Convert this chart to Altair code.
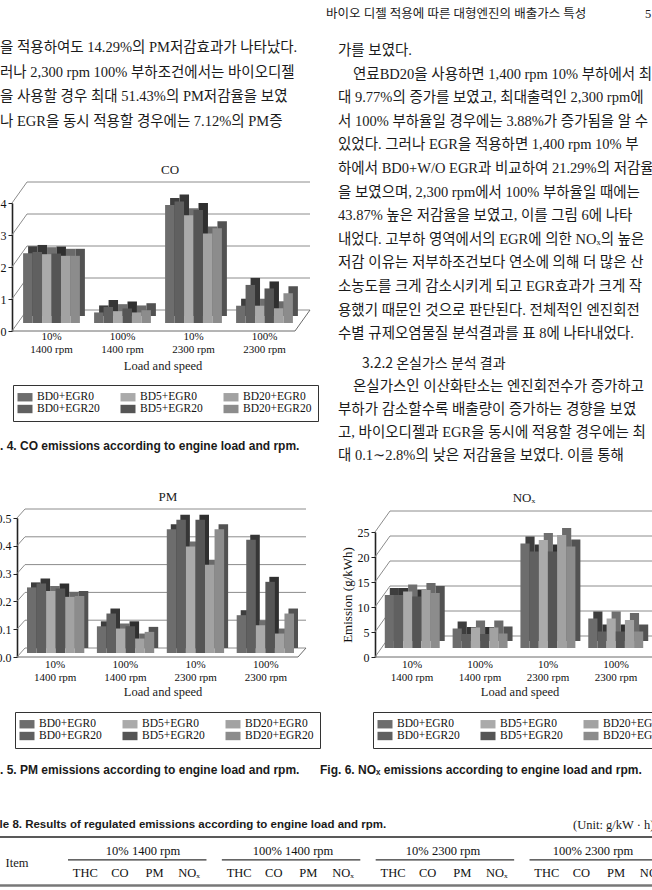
import altair as alt
import pandas as pd

SERIF = "Liberation Serif, DejaVu Serif"
KOR = "Liberation Serif, Noto Sans CJK KR, DejaVu Serif"
KSANS = "Noto Sans CJK KR"
SANS = "Liberation Sans, DejaVu Sans"
INK = "#1a1a1a"
IND = "\u3000"

# ---------------- data ----------------
series_bars = ["BD0+EGR0", "BD0+EGR20", "BD5+EGR0", "BD5+EGR20", "BD20+EGR0", "BD20+EGR20"]
loads = ["10%", "100%", "10%", "100%"]
speeds = ["1400 rpm", "1400 rpm", "2300 rpm", "2300 rpm"]
group_labels = [l + "\n" + s for l, s in zip(loads, speeds)]

co_values = [
    [2.18, 2.22, 2.15, 2.17, 2.10, 2.10],
    [0.33, 0.50, 0.37, 0.45, 0.33, 0.40],
    [3.69, 3.80, 3.37, 3.53, 2.80, 2.96],
    [0.54, 1.19, 0.54, 1.08, 0.46, 0.93],
]
pm_values = [
    [0.236, 0.250, 0.223, 0.232, 0.202, 0.205],
    [0.096, 0.142, 0.088, 0.096, 0.052, 0.076],
    [0.445, 0.479, 0.383, 0.479, 0.317, 0.445],
    [0.136, 0.407, 0.100, 0.256, 0.070, 0.142],
]
nox_values = [
    [10.6, 10.6, 11.3, 10.3, 11.6, 11.0],
    [3.9, 2.8, 4.1, 2.8, 4.1, 2.9],
    [20.9, 19.3, 21.6, 19.3, 22.6, 20.3],
    [5.9, 3.3, 5.9, 3.3, 5.6, 3.3],
]
co_ticks = [0, 1, 2, 3, 4]
pm_ticks = [0.0, 0.1, 0.2, 0.3, 0.4, 0.5]
nox_ticks = [0, 5, 10, 15, 20, 25]

front_colors = ["#6d6d6d", "#606060", "#aaaaaa", "#555555", "#a2a2a2", "#8c8c8c"]
shadow_colors = ["#3e3e3e", "#363636", "#6f6f6f", "#2f2f2f", "#6a6a6a", "#525252"]

left_lines = [
    "을 적용하여도 14.29%의 PM저감효과가 나타났다.",
    "러나 2,300 rpm 100% 부하조건에서는 바이오디젤",
    "을 사용할 경우 최대 51.43%의 PM저감율을 보였",
    "나 EGR을 동시 적용할 경우에는 7.12%의 PM증",
]
right_lines_a = [
    "가를 보였다.",
    IND + "연료BD20을 사용하면 1,400 rpm 10% 부하에서 최",
    "대 9.77%의 증가를 보였고, 최대출력인 2,300 rpm에",
    "서 100% 부하율일 경우에는 3.88%가 증가됨을 알 수",
    "있었다. 그러나 EGR을 적용하면 1,400 rpm 10% 부",
    "하에서 BD0+W/O EGR과 비교하여 21.29%의 저감율",
    "을 보였으며, 2,300 rpm에서 100% 부하율일 때에는",
    "43.87% 높은 저감율을 보였고, 이를 그림 6에 나타",
    "내었다. 고부하 영역에서의 EGR에 의한 NOₓ의 높은",
    "저감 이유는 저부하조건보다 연소에 의해 더 많은 산",
    "소농도를 크게 감소시키게 되고 EGR효과가 크게 작",
    "용했기 때문인 것으로 판단된다. 전체적인 엔진회전",
    "수별 규제오염물질 분석결과를 표 8에 나타내었다.",
]
heading = "3.2.2 온실가스 분석 결과"
right_lines_b = [
    IND + "온실가스인 이산화탄소는 엔진회전수가 증가하고",
    "부하가 감소할수록 배출량이 증가하는 경향을 보였",
    "고, 바이오디젤과 EGR을 동시에 적용할 경우에는 최",
    "대 0.1∼2.8%의 낮은 저감율을 보였다. 이를 통해",
]
page_header = "바이오 디젤 적용에 따른 대형엔진의 배출가스 특성"
page_number = "5"
cap4 = "Fig. 4. CO emissions according to engine load and rpm."
cap5 = "Fig. 5. PM emissions according to engine load and rpm."
cap6 = "Fig. 6. NOₓ emissions according to engine load and rpm."
table_caption = "Table 8. Results of regulated emissions according to engine load and rpm."
table_unit = "(Unit: g/kW · h)"
tbl_groups = ["10% 1400 rpm", "100% 1400 rpm", "10% 2300 rpm", "100% 2300 rpm"]
tbl_items = ["THC", "CO", "PM", "NOₓ"]


def long_df(values):
    rows = []
    for g, vals in zip(group_labels, values):
        for s, v in zip(series_bars, vals):
            rows.append({"group": g, "series": s, "value": v})
    return pd.DataFrame(rows)


def text(t, x, y, font=KOR, size=14.5, color=INK, align="left", baseline="alphabetic",
         weight="normal"):
    kw = dict(font=font, fontSize=size, color=color, align=align, baseline=baseline,
              fontWeight=weight)
    return alt.Chart(pd.DataFrame({"t": [t]})).mark_text(**kw).encode(
        x=alt.value(x), y=alt.value(y), text="t:N")


def block(lines, x, y0, lh, size=14.5, indent=15):
    out = []
    for k, ln in enumerate(lines):
        xx = x
        if ln.startswith(IND):
            ln = ln[len(IND):]
            xx = x + indent
        out.append(text(ln, xx, y0 + k * lh, size=size))
    return out


def panel(p):
    df = long_df(p["values"])
    tdf = pd.DataFrame({"t": p["ticks"]})
    zdf = pd.DataFrame({"t": [p["ticks"][0]]})
    dom = [p["ticks"][0], p["ticks"][-1]]

    def ys(shift):
        return alt.Scale(domain=dom, range=[p["y0"] - shift, p["ytop"] - shift], nice=False)

    def xs(shift):
        return alt.Scale(domain=group_labels, range=[p["xr"][0] + shift, p["xr"][1] + shift],
                         paddingInner=p["pin"], paddingOuter=p["pout"])

    xo = alt.Scale(domain=series_bars, paddingInner=0, paddingOuter=0)
    ax, dx, dy = p["axis_x"], p["dx"], p["dy"]

    axis_kw = dict(orient="left", offset=-ax, values=p["ticks"], format=p["fmt"], grid=False,
                   domainColor="#222222", domainWidth=1.6, tickColor="#222222", tickSize=4,
                   labelFont=SERIF, labelFontSize=12, labelColor="#111111", labelPadding=2)
    if p.get("ytitle"):
        axis_kw.update(title=p["ytitle"], titleFont=SERIF, titleFontSize=13,
                       titleFontWeight="normal", titleColor="#111111", titlePadding=3)
    else:
        axis_kw.update(title=None)

    grid = alt.Chart(tdf).mark_rule(color="#8c8c8c", strokeWidth=1).encode(
        y=alt.Y("t:Q", scale=ys(dy), axis=None),
        x=alt.value(ax + dx), x2=alt.value(p["right"]))
    diag = alt.Chart(tdf).mark_rule(color="#8c8c8c", strokeWidth=1, y2Offset=-dy).encode(
        y=alt.Y("t:Q", scale=ys(0), axis=alt.Axis(**axis_kw)),
        y2="t:Q",
        x=alt.value(ax), x2=alt.value(ax + dx))
    floor_front = alt.Chart(zdf).mark_rule(color="#6a6a6a", strokeWidth=1).encode(
        y=alt.Y("t:Q", scale=ys(0), axis=None),
        x=alt.value(ax), x2=alt.value(p["right"] - dx))
    floor_side = alt.Chart(zdf).mark_rule(color="#6a6a6a", strokeWidth=1, y2Offset=-dy).encode(
        y=alt.Y("t:Q", scale=ys(0), axis=None), y2="t:Q",
        x=alt.value(p["right"] - dx), x2=alt.value(p["right"]))
    shadow = alt.Chart(df).mark_bar().encode(
        x=alt.X("group:N", scale=xs(p["sdx"]), axis=None),
        xOffset=alt.XOffset("series:N", scale=xo),
        y=alt.Y("value:Q", scale=ys(p["lift"] + p["sdy"]), axis=None),
        color=alt.Color("series:N", scale=alt.Scale(domain=series_bars, range=shadow_colors),
                        legend=None))
    front = alt.Chart(df).mark_bar().encode(
        x=alt.X("group:N", scale=xs(0), axis=None),
        xOffset=alt.XOffset("series:N", scale=xo),
        y=alt.Y("value:Q", scale=ys(p["lift"]), axis=None),
        color=alt.Color("series:N", scale=alt.Scale(domain=series_bars, range=front_colors),
                        legend=alt.Legend(
                            title=None, orient="none", legendX=p["legend_xy"][0],
                            legendY=p["legend_xy"][1], columns=3,
                            symbolType="M-1.25,-0.7H1.25V0.7H-1.25Z", symbolSize=144,
                            symbolStrokeWidth=0, labelFont=SERIF, labelFontSize=11.5,
                            labelColor="#111111", labelOffset=6, columnPadding=20,
                            rowPadding=0, padding=6, strokeColor="#333333",
                            fillColor="white", labelLimit=200)))
    xlab = alt.Chart(pd.DataFrame({"group": group_labels})).mark_text(
        lineBreak="\n", lineHeight=12.5, baseline="top", font=SERIF, fontSize=11,
        color="#111111").encode(
        x=alt.X("group:N", scale=xs(0), axis=None), y=alt.value(p["xlab_top"]), text="group:N")
    layers = [grid, diag, floor_front, floor_side, shadow, front, xlab,
              text(p["title"], p["title_xy"][0], p["title_xy"][1], font=SERIF, size=13,
                   align="center", baseline="middle"),
              text("Load and speed", p["xtitle_xy"][0], p["xtitle_xy"][1], font=SERIF,
                   size=12.5, align="center", baseline="middle")]
    return layers


CO = dict(values=co_values, ticks=co_ticks, fmt="d", title="CO", axis_x=12, y0=331, ytop=203,
          xr=(16, 300), pin=0.2, pout=0.1, dx=15, dy=21, lift=8, sdx=5, sdy=7, right=310,
          title_xy=(170, 170), xlab_top=331, xtitle_xy=(163, 366), legend_xy=(13, 385))
PM = dict(values=pm_values, ticks=pm_ticks, fmt=".1f", title="PM", axis_x=17, y0=657, ytop=518,
          xr=(20, 301), pin=0.18, pout=0.1, dx=8, dy=9, lift=4, sdx=4, sdy=5, right=306,
          title_xy=(168, 497), xlab_top=659, xtitle_xy=(163, 692), legend_xy=(15, 712))
NOX = dict(values=nox_values, ticks=nox_ticks, fmt="d", title="NOₓ", axis_x=375, y0=657,
           ytop=532, xr=(378, 650), pin=0.19, pout=0.1, dx=15, dy=21, lift=9, sdx=5, sdy=7,
           right=705, title_xy=(524, 498), xlab_top=659, xtitle_xy=(520, 692),
           legend_xy=(373, 712), ytitle="Emission (g/kWh)")

layers = []
layers += panel(CO) + panel(PM) + panel(NOX)

# body text
layers.append(text(page_header, 326, 18, size=12.5))
layers.append(text(page_number, 645, 18, font=SERIF, size=12.5))
layers += block(left_lines, 0, 52, 24.5)
layers += block(right_lines_a, 338, 55, 23.6)
layers.append(text(heading, 362, 368, font=KSANS, size=14, color="#222222"))
layers += block(right_lines_b, 338, 391, 23.0)

# captions
layers.append(text(cap4, -18, 446, font=SANS, size=12, weight="bold", baseline="middle"))
layers.append(text(cap5, -18, 770, font=SANS, size=12, weight="bold", baseline="middle"))
layers.append(text(cap6, 320, 770, font=SANS, size=12, weight="bold", baseline="middle"))
layers.append(text(table_caption, -20, 825, font=SANS, size=11.5, weight="bold",
                   baseline="middle"))
layers.append(text(table_unit, 573, 825, font=SERIF, size=12.5, baseline="middle"))

# table header
tx = alt.Scale(domain=tbl_groups, range=[68, 668], paddingInner=0.1, paddingOuter=0)
txo = alt.Scale(type="point", domain=tbl_items, padding=0.5)
gdf = pd.DataFrame({"g": tbl_groups})
idf = pd.DataFrame([{"g": g, "i": i} for g in tbl_groups for i in tbl_items])
layers.append(alt.Chart(pd.DataFrame({"a": [0]})).mark_rule(color="#222222", strokeWidth=1.5).encode(
    x=alt.value(0), x2=alt.value(652), y=alt.value(837)))
layers.append(alt.Chart(pd.DataFrame({"a": [0]})).mark_rule(color="#777777", strokeWidth=2.5).encode(
    x=alt.value(0), x2=alt.value(652), y=alt.value(885.5)))
layers.append(alt.Chart(gdf).mark_text(font=SERIF, fontSize=12.5, color="#111111",
                                       baseline="middle").encode(
    x=alt.X("g:N", scale=tx, axis=None), y=alt.value(851), text="g:N"))
layers.append(alt.Chart(gdf).mark_rect(color="#333333").encode(
    x=alt.X("g:N", scale=tx, axis=None), y=alt.value(859.3), y2=alt.value(860.5)))
layers.append(alt.Chart(idf).mark_text(font=SERIF, fontSize=12.5, color="#111111",
                                       baseline="middle").encode(
    x=alt.X("g:N", scale=tx, axis=None), xOffset=alt.XOffset("i:N", scale=txo),
    y=alt.value(873), text="i:N"))
layers.append(text("Item", 17, 863, font=SERIF, size=12.5, align="center", baseline="middle"))

chart = alt.layer(*layers).resolve_scale(
    x="independent", y="independent", color="independent", xOffset="independent"
).resolve_axis(x="independent", y="independent").resolve_legend(color="independent").properties(
    width=652, height=890, autosize=alt.AutoSizeParams(type="none"), padding=0,
    background="white"
).configure_view(stroke=None)

chart.save("out.html", embed_options={"renderer": "svg", "actions": False})
